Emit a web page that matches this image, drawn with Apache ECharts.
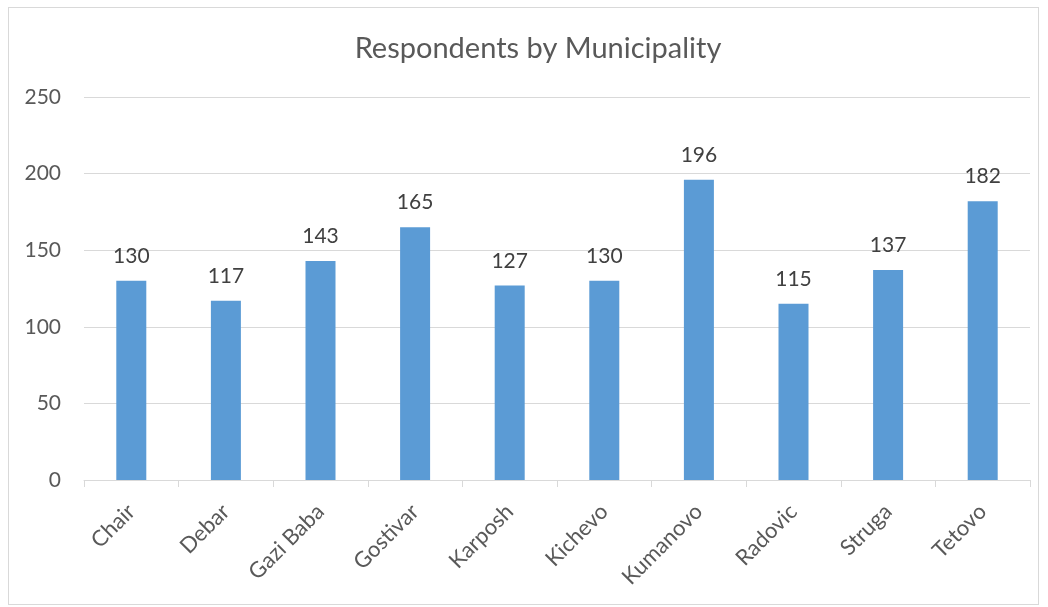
<!DOCTYPE html>
<html><head><meta charset="utf-8">
<script src="https://cdn.jsdelivr.net/npm/echarts@6/dist/echarts.min.js"></script>
<style>
html,body{margin:0;padding:0;background:#fff;}
#frame{position:absolute;left:8px;top:7px;width:1031px;height:598px;border:1px solid #d9d9d9;box-sizing:border-box;}
#c{position:absolute;left:0;top:0;width:1048px;height:607px;}
</style></head>
<body>
<div id="frame"></div>
<div id="c"></div>
<script>
const categories = ['Chair','Debar','Gazi Baba','Gostivar','Karposh','Kichevo','Kumanovo','Radovic','Struga','Tetovo'];
const values = [130,117,143,165,127,130,196,115,137,182];
const yTicks = {min:0, max:250, interval:50};
const FONT = 'Lato';
const chart = echarts.init(document.getElementById('c'));
chart.setOption({
  animation:false,
  title:{text:'Respondents by Municipality',left:533,textAlign:'center',top:29,
    textStyle:{fontFamily:FONT,fontSize:29,fontWeight:'normal',color:'#595959'}},
  grid:{left:84,right:18,top:97,bottom:127,containLabel:false},
  xAxis:{type:'category',data:categories,
    axisLine:{lineStyle:{color:'#d9d9d9',width:1}},
    axisTick:{show:true,length:7,alignWithLabel:false,lineStyle:{color:'#d9d9d9'}},
    axisLabel:{rotate:45,fontFamily:FONT,fontSize:22,color:'#595959',margin:28,interval:0,padding:[14,0,0,0]}},
  yAxis:{type:'value',min:yTicks.min,max:yTicks.max,interval:yTicks.interval,
    axisLine:{show:false},axisTick:{show:false},
    splitLine:{lineStyle:{color:'#d9d9d9',width:1}},
    axisLabel:{fontFamily:FONT,fontSize:21,color:'#595959',margin:23}},
  series:[{type:'bar',data:values,barWidth:30,
    itemStyle:{color:'#5b9bd5'},
    label:{show:true,position:'top',distance:14,fontFamily:FONT,fontSize:21,color:'#404040'}}]
});
</script>
</body></html>
